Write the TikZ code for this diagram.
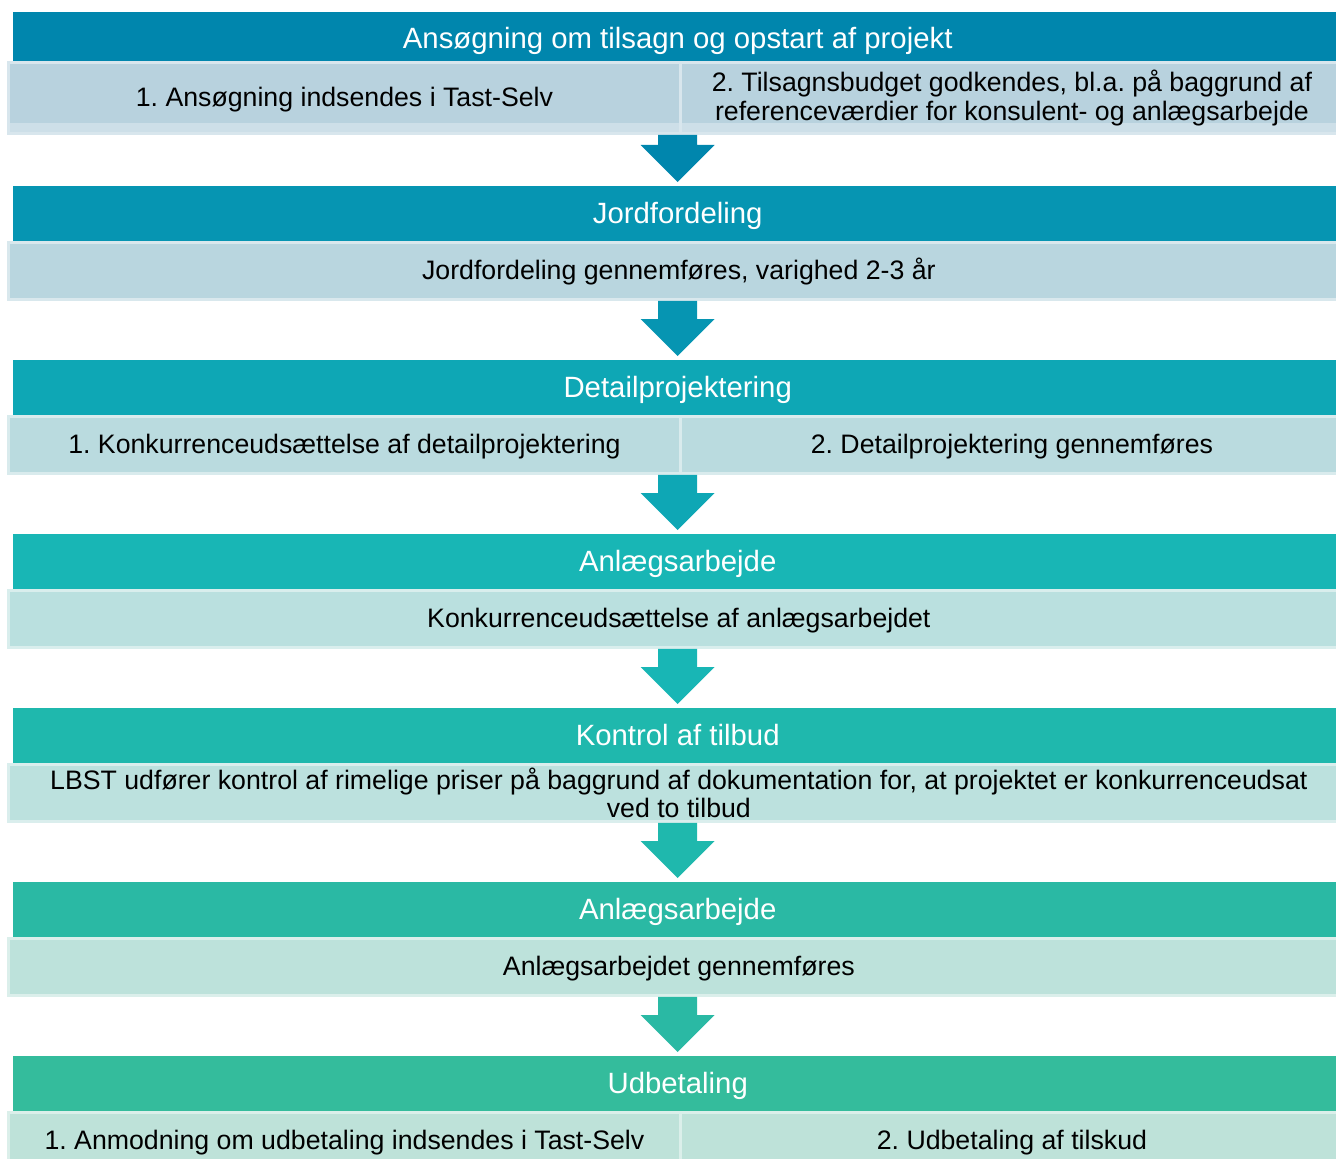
\documentclass[tikz,border=0pt]{standalone}
\usepackage{fontspec}
\setmainfont{Liberation Sans}
\usepackage{xcolor}
\usetikzlibrary{calc, positioning, backgrounds}
\frenchspacing

\definecolor{hdrA}{RGB}{0,134,173}
\definecolor{hdrB}{RGB}{6,149,178}
\definecolor{hdrC}{RGB}{14,167,181}
\definecolor{hdrD}{RGB}{24,182,181}
\definecolor{hdrE}{RGB}{31,184,173}
\definecolor{hdrF}{RGB}{42,185,164}
\definecolor{hdrG}{RGB}{52,188,156}
\definecolor{subA}{RGB}{184,210,222}
\definecolor{subB}{RGB}{185,214,223}
\definecolor{subC}{RGB}{186,219,223}
\definecolor{subD}{RGB}{186,224,223}
\definecolor{subE}{RGB}{188,225,222}
\definecolor{subF}{RGB}{189,226,219}
\definecolor{subG}{RGB}{190,226,217}

\tikzset{
    header/.style={
        rectangle,
        fill=#1,
        text=white,
        inner sep=0pt,
        anchor=north west,
        minimum width=26.58cm,
        minimum height=1.1cm,
        text height=14.5pt,
        text depth=3.5pt,
        font=\fontsize{16.7}{19}\selectfont
    },
    subbox/.style={
        rectangle,
        fill=#1,
        draw=#1!55!white,
        line width=0.06cm,
        inner sep=0pt,
        anchor=north west,
        align=center,
        minimum width=26.82cm,
        minimum height=1.14cm,
        font=\fontsize{15.2}{16}\selectfont
    },
    halfbox/.style={
        subbox=#1,
        minimum width=13.44cm
    },
    oneline/.style={
        text height=13.4pt,
        text depth=3.2pt
    }
}

\begin{document}
\begin{tikzpicture}[x=0.02cm, y=-0.02cm]
\useasboundingbox (0,0) rectangle (1336,1159);
\clip (0,0) rectangle (1336,1159);

% Ansoegning
\node[header=hdrA, minimum height=0.98cm, text height=16.7pt] (hdr_soeg) at (13,12) {Ansøgning om tilsagn og opstart af projekt};
\node[halfbox=subA, fill=none, oneline, minimum height=1.42cm] (sub_soeg_l) at (7,61) {1. Ansøgning indsendes i Tast-Selv};
\node[halfbox=subA, fill=none, minimum width=13.26cm, minimum height=1.42cm] (sub_soeg_r) at (679,61) {2. Tilsagnsbudget godkendes, bl.a. på baggrund af\\referenceværdier for konsulent- og anlægsarbejde};
\begin{scope}[on background layer]
\fill[subA] (sub_soeg_l.north west) rectangle ($(sub_soeg_r.south east)+(20,0)$);
\fill[subA!70!white] ($(sub_soeg_l.south west)+(0,-12)$) rectangle ($(sub_soeg_r.south east)+(20,0)$);
\end{scope}

% Jordfordeling
\node[header=hdrB] (hdr_jord) at (13,186) {Jordfordeling};
\node[subbox=subB, oneline] (sub_jord) at (7,241) {Jordfordeling gennemføres, varighed 2-3 år};

% Detailprojektering
\node[header=hdrC] (hdr_detail) at (13,360) {Detailprojektering};
\node[halfbox=subC, oneline] (sub_detail_l) at (7,415) {1. Konkurrenceudsættelse af detailprojektering};
\node[halfbox=subC, oneline, minimum width=13.26cm] (sub_detail_r) at (679,415) {2. Detailprojektering gennemføres};

% Anlaegsarbejde (udbud)
\node[header=hdrD] (hdr_anlaeg) at (13,534) {Anlægsarbejde};
\node[subbox=subD, oneline] (sub_anlaeg) at (7,589) {Konkurrenceudsættelse af anlægsarbejdet};

% Kontrol af tilbud
\node[header=hdrE] (hdr_kontrol) at (13,708) {Kontrol af tilbud};
\node[subbox=subE] (sub_kontrol) at (7,763) {LBST udfører kontrol af rimelige priser på baggrund af dokumentation for, at projektet er konkurrenceudsat\\ved to tilbud};

% Anlaegsarbejde (udfoerelse)
\node[header=hdrF] (hdr_anlaeg2) at (13,882) {Anlægsarbejde};
\node[subbox=subF, oneline] (sub_anlaeg2) at (7,937) {Anlægsarbejdet gennemføres};

% Udbetaling
\node[header=hdrG] (hdr_udbet) at (13,1056) {Udbetaling};
\node[halfbox=subG, oneline] (sub_udbet_l) at (7,1111) {1. Anmodning om udbetaling indsendes i Tast-Selv};
\node[halfbox=subG, oneline, minimum width=13.26cm] (sub_udbet_r) at (679,1111) {2. Udbetaling af tilskud};

% Block arrows between the stages
\foreach \from/\to/\col in {sub_soeg_l/hdr_jord/hdrA, sub_jord/hdr_detail/hdrB, sub_detail_l/hdr_anlaeg/hdrC,
                            sub_anlaeg/hdr_kontrol/hdrD, sub_kontrol/hdr_anlaeg2/hdrE, sub_anlaeg2/hdr_udbet/hdrF}{
    \fill[\col] ($(\from.south -| \to.north)+(-19.5,0)$) -- ($(\from.south -| \to.north)+(19.5,0)$)
        -- ($(\to.north)+(19.5,-41)$) -- ($(\to.north)+(37,-41)$) -- ($(\to.north)+(0,-4)$)
        -- ($(\to.north)+(-37,-41)$) -- ($(\to.north)+(-19.5,-41)$) -- cycle;
}

\end{tikzpicture}
\end{document}
